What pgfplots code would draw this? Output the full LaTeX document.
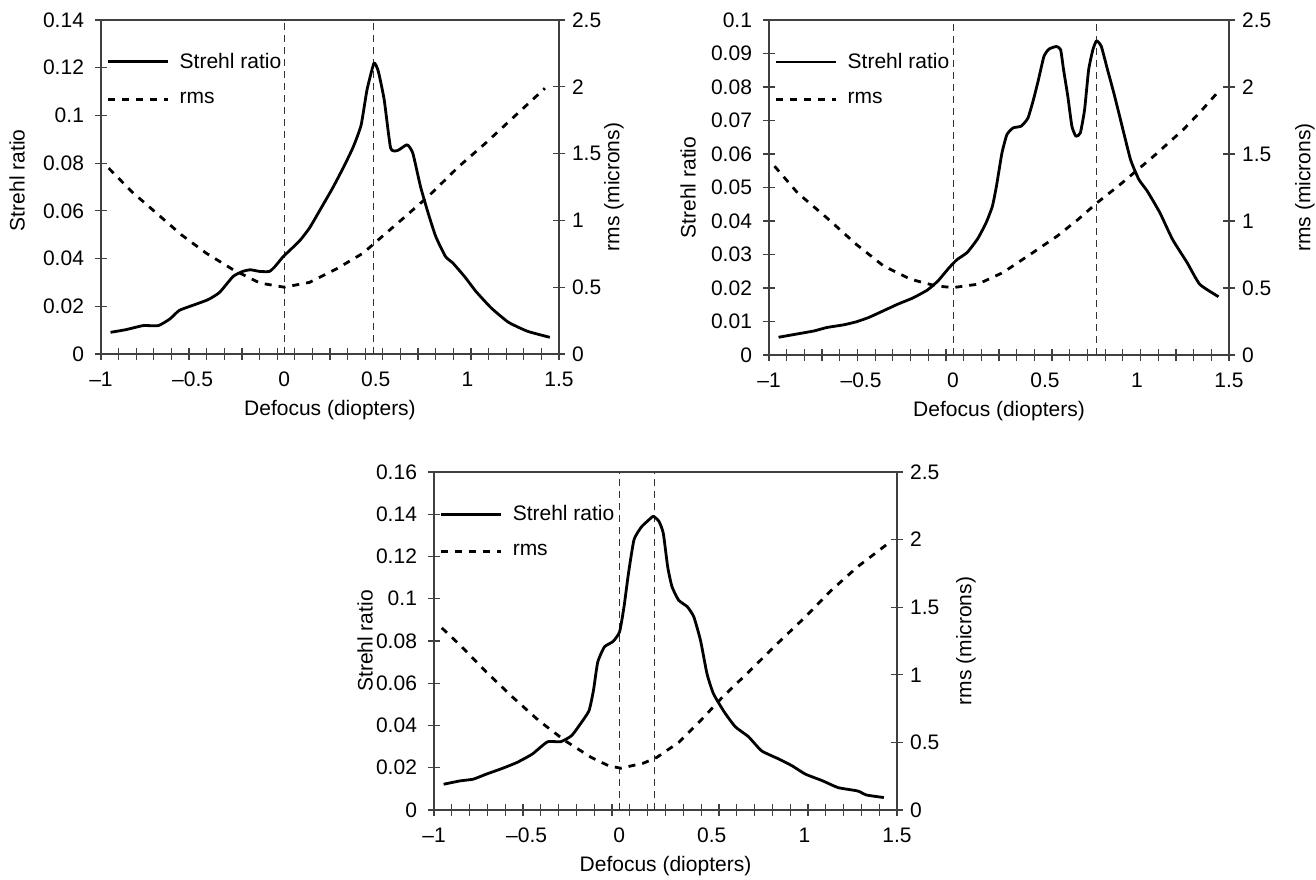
\documentclass[border=0pt]{standalone}
\usepackage{fontspec}
\setmainfont{Liberation Sans}
\usepackage{pgfplots}
\pgfplotsset{compat=1.18}

\pgfplotsset{
  strehl/.style={line width=1.4pt, black, line join=round, smooth, tension=0.3},
  rms/.style={line width=1.4pt, black, dash pattern=on 3.5pt off 3.5pt},
  marker/.style={line width=0.5pt, black!80, dash pattern=on 3.5pt off 2.5pt},
  common/.style={
    scale only axis, anchor=south west,
    xmin=-1, xmax=1.5, ymin=0,
    font=\fontsize{10.5}{12}\selectfont,
    /pgf/number format/assume math mode=true,
    axis line style={black!75, line width=0.6pt},
    every tick/.style={black!75, line width=0.6pt},
    tick align=center, major tick length=6pt, minor tick length=6pt,
  },
  leftax/.style={
    common,
    xtick={-1,-0.5,0,0.5,1,1.5},
    xticklabels={\textendash1,\textendash0.5,0,0.5,1,1.5},
    major x tick style={draw=none},
    minor xtick={-1,-0.903846,-0.807692,-0.711538,-0.615385,-0.519231,-0.423077,-0.326923,-0.230769,-0.134615,-0.038462,0.057692,0.153846,0.25,0.346154,0.442308,0.538462,0.634615,0.730769,0.826923,0.923077,1.019231,1.115385,1.211538,1.307692,1.403846,1.5},
    xtick pos=left, ytick pos=left,
    xticklabel style={yshift=-2.5pt},
    yticklabel style={xshift=-2pt, /pgf/number format/fixed, /pgf/number format/precision=2},
    xlabel={Defocus (diopters)}, ylabel={Strehl ratio},
    legend style={draw=none, fill=none, at={(0.012,0.915)}, anchor=north west,
      inner sep=0pt, font=\fontsize{10.5}{12}\selectfont, row sep=6.5pt},
    legend cell align=left,
    legend image code/.code={\draw[##1] (0pt,0pt) -- (30pt,0pt); \path (33pt,0pt);},
  },
  rightax/.style={
    common,
    hide x axis, axis y line*=right,
    ymax=2.5, ytick={0,0.5,1,1.5,2,2.5},
    ylabel={rms (microns)},
  },
}

\begin{document}
\begin{tikzpicture}
\useasboundingbox (0pt,0pt) rectangle (658pt,439.5pt);

% ---------- panel 1 (top left)
\begin{axis}[leftax, at={(50.5pt,262.5pt)}, width=229pt, height=167pt,
  ymax=0.14, ytick={0,0.02,0.04,0.06,0.08,0.1,0.12,0.14},
  ylabel style={at={(axis description cs:-0.183,0.52)}, anchor=center}]
\addplot[marker, forget plot] coordinates {(0,0) (0,0.14)};
\addplot[marker, forget plot] coordinates {(0.49,0) (0.49,0.14)};
\addplot[strehl, forget plot] coordinates {
(-0.948,0.0091) (-0.864,0.0102) (-0.770,0.0119) (-0.687,0.0119) (-0.624,0.0147)
(-0.572,0.0183) (-0.488,0.0207) (-0.415,0.0228) (-0.353,0.0258) (-0.279,0.0325)
(-0.227,0.0346) (-0.185,0.0353) (-0.133,0.0346) (-0.081,0.0346) (-0.050,0.0367)
(-0.008,0.0406) (0.034,0.0437) (0.086,0.0476) (0.138,0.0528) (0.201,0.0611)
(0.264,0.0695) (0.326,0.0786) (0.378,0.0870) (0.420,0.0960) (0.452,0.1107)
(0.490,0.1219) (0.514,0.1184) (0.546,0.1065) (0.581,0.0863) (0.619,0.0853)
(0.671,0.0877) (0.702,0.0842) (0.744,0.0702) (0.786,0.0590) (0.827,0.0493)
(0.880,0.0409) (0.921,0.0381) (0.984,0.0325) (1.047,0.0262) (1.130,0.0193)
(1.224,0.0133) (1.329,0.0095) (1.450,0.0070)};
\addlegendimage{strehl}
\addlegendentry{Strehl ratio}
\addlegendimage{rms}
\addlegendentry{rms}
\end{axis}
\begin{axis}[rightax, at={(50.5pt,262.5pt)}, width=229pt, height=167pt,
  ylabel style={at={(axis description cs:1.12,0.5)}, anchor=center}]
\addplot[rms] coordinates {
(-0.958,1.391) (-0.833,1.216) (-0.697,1.054) (-0.561,0.892) (-0.426,0.755)
(-0.279,0.631) (-0.133,0.531) (0.000,0.500) (0.138,0.536) (0.284,0.636)
(0.431,0.755) (0.493,0.830) (0.640,1.004) (0.786,1.179) (0.953,1.403)
(1.099,1.578) (1.266,1.790) (1.423,1.989)};
\end{axis}

% ---------- panel 2 (top right)
\begin{axis}[leftax, at={(384.5pt,262pt)}, width=230pt, height=167.5pt,
  ymax=0.1, ytick={0,0.01,0.02,0.03,0.04,0.05,0.06,0.07,0.08,0.09,0.1},
  ylabel style={at={(axis description cs:-0.176,0.5)}, anchor=center}]
\addplot[marker, forget plot] coordinates {(0,0) (0,0.1)};
\addplot[marker, forget plot] coordinates {(0.78,0) (0.78,0.1)};
\addplot[strehl, forget plot] coordinates {
(-0.948,0.0053) (-0.845,0.0063) (-0.754,0.0072) (-0.686,0.0082) (-0.595,0.0090)
(-0.526,0.0099) (-0.458,0.0112) (-0.390,0.0129) (-0.299,0.0152) (-0.219,0.0170)
(-0.139,0.0194) (-0.082,0.0221) (-0.025,0.0258) (0.020,0.0284) (0.077,0.0306)
(0.134,0.0347) (0.180,0.0395) (0.214,0.0444) (0.236,0.0504) (0.266,0.0603)
(0.293,0.0658) (0.327,0.0678) (0.370,0.0683) (0.407,0.0707) (0.437,0.0762)
(0.464,0.0821) (0.494,0.0891) (0.521,0.0913) (0.562,0.0921) (0.585,0.0911)
(0.601,0.0851) (0.624,0.0772) (0.646,0.0683) (0.668,0.0653) (0.692,0.0663)
(0.715,0.0732) (0.737,0.0851) (0.760,0.0911) (0.780,0.0938) (0.806,0.0921)
(0.840,0.0851) (0.874,0.0782) (0.919,0.0683) (0.965,0.0583) (1.010,0.0524)
(1.056,0.0489) (1.124,0.0425) (1.193,0.0345) (1.272,0.0276) (1.341,0.0211)
(1.443,0.0174)};
\addlegendimage{strehl}
\addlegendentry{Strehl ratio}
\addlegendimage{rms}
\addlegendentry{rms}
\end{axis}
\begin{axis}[rightax, at={(384.5pt,262pt)}, width=230pt, height=167.5pt,
  ylabel style={at={(axis description cs:1.165,0.5)}, anchor=center}]
\addplot[rms] coordinates {
(-0.970,1.409) (-0.845,1.210) (-0.686,1.024) (-0.526,0.826) (-0.378,0.665)
(-0.230,0.565) (-0.094,0.516) (0.000,0.503) (0.134,0.528) (0.271,0.615)
(0.407,0.739) (0.567,0.888) (0.680,1.012) (0.783,1.136) (0.908,1.272)
(1.090,1.483) (1.250,1.680) (1.341,1.810) (1.443,1.967)};
\end{axis}

% ---------- panel 3 (bottom)
\begin{axis}[leftax, at={(217pt,34.5pt)}, width=231.5pt, height=169pt,
  ymax=0.16, ytick={0,0.02,0.04,0.06,0.08,0.1,0.12,0.14,0.16},
  ylabel style={at={(axis description cs:-0.149,0.5)}, anchor=center}]
\addplot[marker, forget plot] coordinates {(0,0) (0,0.16)};
\addplot[marker, forget plot] coordinates {(0.19,0) (0.19,0.16)};
\addplot[strehl, forget plot] coordinates {
(-0.948,0.0122) (-0.858,0.0138) (-0.788,0.0146) (-0.717,0.0170) (-0.634,0.0196)
(-0.552,0.0225) (-0.469,0.0265) (-0.387,0.0323) (-0.316,0.0323) (-0.257,0.0352)
(-0.210,0.0407) (-0.163,0.0470) (-0.139,0.0566) (-0.116,0.0700) (-0.080,0.0772)
(-0.033,0.0798) (0.002,0.0843) (0.026,0.0962) (0.050,0.1120) (0.080,0.1280)
(0.120,0.1340) (0.156,0.1370) (0.184,0.1390) (0.215,0.1366) (0.238,0.1310)
(0.262,0.1150) (0.285,0.1057) (0.321,0.0993) (0.368,0.0962) (0.403,0.0914)
(0.439,0.0803) (0.474,0.0645) (0.509,0.0550) (0.568,0.0463) (0.627,0.0394)
(0.698,0.0347) (0.769,0.0280) (0.863,0.0241) (0.934,0.0209) (1.005,0.0170)
(1.099,0.0138) (1.182,0.0106) (1.288,0.0090) (1.335,0.0071) (1.429,0.0059)};
\addlegendimage{strehl}
\addlegendentry{Strehl ratio}
\addlegendimage{rms}
\addlegendentry{rms}
\end{axis}
\begin{axis}[rightax, at={(217pt,34.5pt)}, width=231.5pt, height=169pt,
  ylabel style={at={(axis description cs:1.149,0.5)}, anchor=center}]
\addplot[rms] coordinates {
(-0.958,1.347) (-0.858,1.218) (-0.717,1.020) (-0.575,0.834) (-0.434,0.661)
(-0.292,0.512) (-0.151,0.389) (-0.057,0.327) (0.009,0.309) (0.132,0.347)
(0.203,0.389) (0.321,0.500) (0.439,0.661) (0.557,0.834) (0.698,1.020)
(0.863,1.243) (1.005,1.428) (1.146,1.626) (1.288,1.800) (1.441,1.960)};
\end{axis}
\end{tikzpicture}
\end{document}
